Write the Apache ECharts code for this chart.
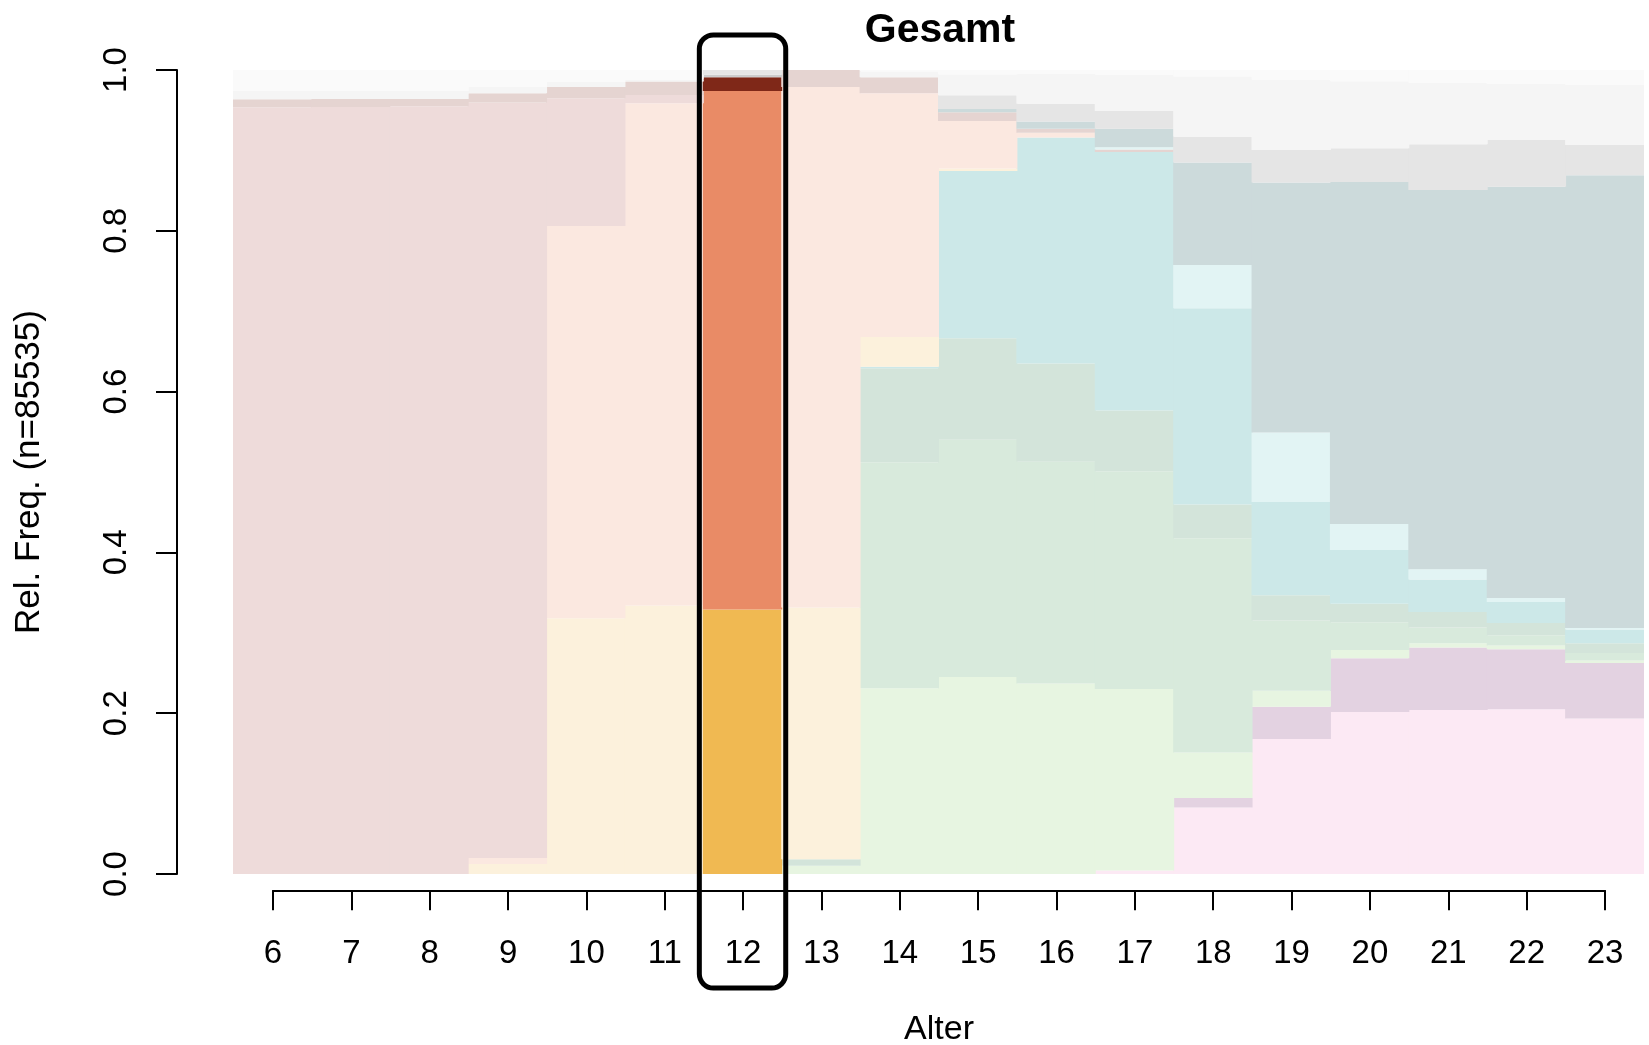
<!DOCTYPE html>
<html lang="de">
<head>
<meta charset="UTF-8">
<title>Gesamt</title>
<script src="https://cdn.jsdelivr.net/npm/echarts@6/dist/echarts.min.js"></script>
<style>
    body{ margin:0; background:#fff; }
    #main{ width:1649px; height:1045px; }
</style>
</head>
<body>
<div id="main"></div>
<script>
// Alter 6..23, relative Häufigkeiten je Kategorie (von unten nach oben gestapelt)
var ages = ['6','7','8','9','10','11','12','13','14','15','16','17','18','19','20','21','22','23'];
var yTicks = [0, 0.2, 0.4, 0.6, 0.8, 1.0];
var highlightAge = '12';

var pink      = [0,0,0,0,0,0,0,0,0,0,0,0.0045,0.0828,0.168,0.2016,0.204,0.2048,0.1934];
var mauve     = [0,0,0,0,0,0,0,0,0,0,0,0,0.0116,0.040,0.0669,0.0778,0.0747,0.069];
var lightgreen= [0,0,0,0,0,0,0,0.0104,0.231,0.245,0.237,0.2255,0.0566,0.020,0.0101,0.0052,0.0046,0.0033];
var green     = [0,0,0,0,0,0,0,0,0.281,0.295,0.2756,0.271,0.2667,0.0874,0.0344,0.0197,0.0129,0.0092];
var greengray = [0,0,0,0,0,0,0,0.0079,0.117,0.1265,0.1224,0.0756,0.0419,0.0313,0.023,0.0193,0.0152,0.0121];
var cyan      = [0,0,0,0,0,0,0,0,0.002,0.208,0.281,0.3214,0.244,0.116,0.067,0.0402,0.0262,0.017];
var yellow    = [0,0,0,0.0124,0.318,0.334,0.329,0.3133,0.037,0.003,0,0,0,0,0,0,0,0];
var peach     = [0,0,0,0.0076,0.488,0.6246,0.645,0.6474,0.303,0.059,0.006,0,0,0,0,0,0,0];
var palepink  = [0.9536,0.954,0.955,0.9397,0.159,0.0104,0,0,0,0,0,0,0,0,0,0,0,0];
var darkpink  = [0.010,0.010,0.009,0.0113,0.014,0.0166,0.017,0.021,0.020,0.011,0.005,0.003,0,0,0,0,0,0];
var lightcyan = [0,0,0,0,0,0,0,0,0,0,0,0.003,0.0539,0.0863,0.0322,0.0128,0.005,0.002];
var bluegray  = [0,0,0,0,0,0,0,0,0,0.004,0.009,0.023,0.1275,0.311,0.4255,0.4717,0.5115,0.563];
var gray      = [0,0,0,0,0,0,0,0,0,0.017,0.022,0.022,0.032,0.0405,0.0419,0.0568,0.058,0.0377];
var lightgray = [0.0104,0.010,0.010,0.008,0.006,0.0024,0.003,0,0.007,0.026,0.037,0.045,0.075,0.0875,0.0834,0.0765,0.0697,0.0746];
var verylight = [0.026,0.026,0.026,0.021,0.015,0.012,0.006,0,0.002,0.0055,0.005,0.006,0.008,0.012,0.014,0.016,0.0174,0.0187];

var layers = [
    {data: pink,       color: '#F091C8'},
    {data: mauve,      color: '#731E69'},
    {data: lightgreen, color: '#87CD69'},
    {data: green,      color: '#3C9650'},
    {data: greengray,  color: '#237846'},
    {data: cyan,       color: '#008C8C'},
    {data: yellow,     color: '#F0B952'},
    {data: peach,      color: '#E98B66'},
    {data: palepink,   color: '#AA4B46'},
    {data: darkpink,   color: '#7F2818'},
    {data: lightcyan,  color: '#6EC8C8'},
    {data: bluegray,   color: '#00464B'},
    {data: gray,       color: '#7D7D7D'},
    {data: lightgray,  color: '#CDCDCD'},
    {data: verylight,  color: '#E6E6E6'}
];

// blasse Farbe = volle Farbe mit alpha 0.2 auf weiss
function pale(hex){
    var r = parseInt(hex.substr(1,2),16), g = parseInt(hex.substr(3,2),16), b = parseInt(hex.substr(5,2),16);
    var mix = function(c){ return Math.round(255 - 0.2*(255 - c)); };
    return 'rgb(' + [mix(r), mix(g), mix(b)].join(',') + ')';
}

var hi = ages.indexOf(highlightAge);
var font = 'Liberation Sans, Arial, sans-serif';
var gridLeft = 233, gridRight = 5;
// etwas breiter als die Kategorie, damit keine Haarlinien zwischen den Balken bleiben
var barW = (1649 - gridLeft - gridRight) / ages.length + 1;

var series = layers.map(function(l){
    return {
        type: 'bar',
        stack: 'all',
        barWidth: barW,
        xAxisIndex: 0,
        yAxisIndex: 0,
        silent: true,
        itemStyle: {color: pale(l.color)},
        data: l.data.map(function(v, i){
            return i === hi ? {value: v, itemStyle: {color: l.color}} : v;
        })
    };
});

var chart = echarts.init(document.getElementById('main'));
var option = {
    animation: false,
    title: {
        text: 'Gesamt',
        left: 935,
        textAlign: 'center',
        top: 5,
        textStyle: {fontFamily: font, fontSize: 41, fontWeight: 'bold', color: '#000'}
    },
    grid: [
        {left: gridLeft, right: gridRight, top: 70, bottom: 171},
        {left: 273, right: 44, top: 890, height: 1}
    ],
    xAxis: [
        {gridIndex: 0, type: 'category', data: ages, show: false},
        {
            gridIndex: 1, type: 'category', data: ages, boundaryGap: false,
            axisLine: {lineStyle: {color: '#000', width: 2}},
            axisTick: {length: 20, lineStyle: {color: '#000', width: 2}},
            axisLabel: {margin: 47, fontSize: 33, color: '#000', fontFamily: font},
            name: 'Alter', nameLocation: 'middle', nameGap: 122,
            nameTextStyle: {fontSize: 34, color: '#000', fontFamily: font}
        }
    ],
    yAxis: [
        {
            gridIndex: 0, type: 'value', min: 0, max: 1, interval: 0.2, offset: 56,
            axisLine: {show: true, lineStyle: {color: '#000', width: 2}},
            axisTick: {show: true, length: 21, lineStyle: {color: '#000', width: 2}},
            splitLine: {show: false},
            axisLabel: {
                rotate: 90, margin: 44, fontSize: 33, color: '#000', fontFamily: font,
                formatter: function(v){ return yTicks.indexOf(v) >= 0 ? v.toFixed(1) : ''; }
            },
            name: 'Rel. Freq. (n=85535)', nameLocation: 'middle', nameGap: 130, nameRotate: 90,
            nameTextStyle: {fontSize: 35, color: '#000', fontFamily: font}
        },
        {gridIndex: 1, type: 'value', show: false}
    ],
    series: series
};
chart.setOption(option);

// Rahmen um die hervorgehobene Altersgruppe
var cx = chart.convertToPixel({xAxisIndex: 0}, highlightAge);
var bandW = chart.getModel().getComponent('xAxis', 0).axis.getBandWidth();
chart.setOption({
    graphic: [{
        type: 'rect',
        shape: {x: cx - bandW/2 - 4, y: 35, width: bandW + 8, height: 953, r: 14},
        style: {fill: 'none', stroke: '#000', lineWidth: 5},
        z: 100
    }]
});
</script>
</body>
</html>
